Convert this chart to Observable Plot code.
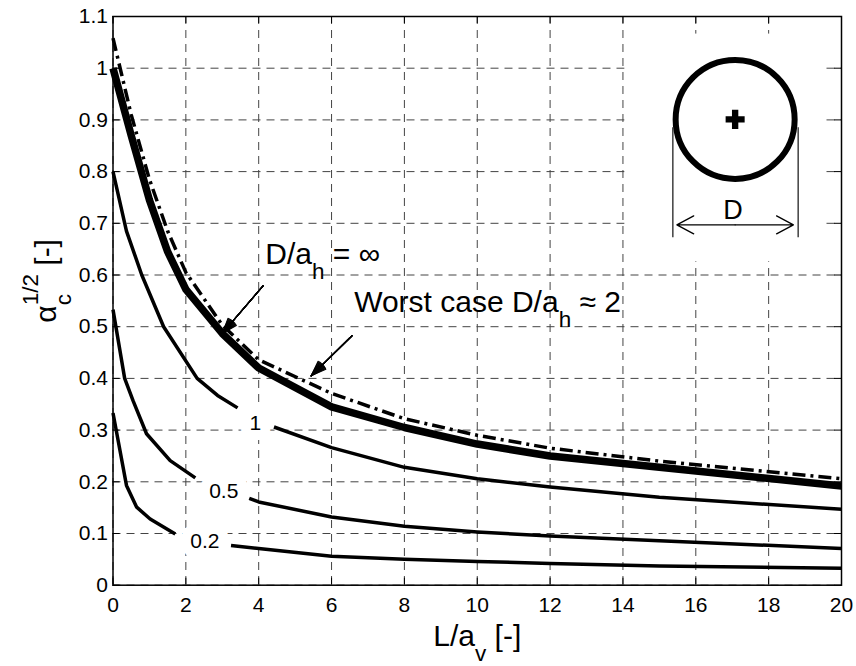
<!DOCTYPE html>
<html>
<head>
<meta charset="utf-8">
<script src="https://cdn.jsdelivr.net/npm/d3@7"></script>
<script src="https://cdn.jsdelivr.net/npm/@observablehq/plot@0.6"></script>
<style>
  html, body { margin: 0; padding: 0; background: #fff; }
  #chart { width: 856px; height: 666px; }
</style>
</head>
<body>
<div id="chart"></div>
<script>
// ---------- data ----------
const xTicks = [0, 2, 4, 6, 8, 10, 12, 14, 16, 18, 20];
const yTicks = [0, 0.1, 0.2, 0.3, 0.4, 0.5, 0.6, 0.7, 0.8, 0.9, 1, 1.1];

// D/a_h = infinity (thick line)
const infX = [0, 0.5, 1, 1.5, 2, 3, 4, 6, 8, 10, 12, 15, 20];
const infY = [1.0, 0.87, 0.745, 0.645, 0.572, 0.487, 0.42, 0.345, 0.305, 0.273, 0.25, 0.228, 0.192];

// Worst case D/a_h ≈ 2 (dash-dot)
const worstX = [0, 0.5, 1, 1.5, 2, 3, 4, 6, 8, 10, 12, 15, 20];
const worstY = [1.058, 0.91, 0.785, 0.685, 0.605, 0.503, 0.436, 0.371, 0.322, 0.29, 0.265, 0.24, 0.206];

// D/a_h = 1 (gap at the label)
const c1X = [0, 0.37, 0.79, 1.39, 2.31, 2.87, 3.42, null, 4.42, 6, 8, 10, 12, 15, 20];
const c1Y = [0.8, 0.685, 0.6, 0.5, 0.4, 0.367, 0.343, null, 0.306, 0.266, 0.228, 0.206, 0.19, 0.17, 0.147];

// D/a_h = 0.5
const c05X = [0, 0.32, 0.55, 0.92, 1.57, 2.26, null, 3.74, 4, 6, 8, 10, 12, 15, 20];
const c05Y = [0.533, 0.40, 0.357, 0.293, 0.241, 0.2075, null, 0.168, 0.161, 0.132, 0.114, 0.103, 0.095, 0.086, 0.071];

// D/a_h = 0.2
const c02X = [0, 0.37, 0.65, 1.02, 1.71, null, 3.24, 4, 6, 8, 10, 12, 15, 20];
const c02Y = [0.333, 0.193, 0.151, 0.128, 0.099, null, 0.077, 0.071, 0.056, 0.05, 0.046, 0.042, 0.037, 0.033];

// curve labels
const curveLabelText = ["1", "0.5", "0.2"];
const curveLabelX = [3.91, 3.04, 2.52];
const curveLabelY = [0.300, 0.169, 0.072];

// annotations
const annotText = ["D/a_{h} = ∞", "Worst case D/a_{h} ≈ 2"];
const annotX = [4.18, 6.62];
const annotY = [0.622, 0.5275];
const annotArrowX1 = [4.12, 6.56];
const annotArrowY1 = [0.579, 0.4825];
const annotArrowX2 = [3.0, 5.44];
const annotArrowY2 = [0.487, 0.405];

// inset (circle of diameter D)
const insetBoxX = [14.06, 19.55];
const insetBoxY = [0.6255, 1.066];
const circleCenter = [17.08, 0.901];
const dimLineX = [15.37, 18.81];
const dimLineY = [0.672, 0.885];
const dimArrowY = 0.697;
const dimArrowEnds = [15.48, 18.68];
const dimLabel = "D";
const dimLabelPos = [17.02, 0.7086];

// axis titles
const xTitle = "L/a_{v} [-]";
const yTitle = "α_{c}^{1/2} [-]";

// ---------- layout ----------
const W = 856, H = 666;
const mL = 112.5, mR = 15, mT = 16, mB = 81.3;
const plotW = W - mL - mR, plotH = H - mT - mB;
const FONT = "'Liberation Sans', Arial, Helvetica, sans-serif";
const TICK_FONT = 21;

const toRows = (X, Y) => X.map((x, i) => ({x, y: Y[i]}));
const infRows = toRows(infX, infY);
const worstRows = toRows(worstX, worstY);
const c1Rows = toRows(c1X, c1Y);
const c05Rows = toRows(c05X, c05Y);
const c02Rows = toRows(c02X, c02Y);
const labelRows = curveLabelText.map((t, i) => ({t, x: curveLabelX[i], y: curveLabelY[i]}));
const annotRows = annotText.map((t, i) => ({t, x: annotX[i], y: annotY[i]}));
const annotArrowRows = annotArrowX1.map((x1, i) => ({x1, y1: annotArrowY1[i], x2: annotArrowX2[i], y2: annotArrowY2[i]}));
const boxRows = [{x1: insetBoxX[0], x2: insetBoxX[1], y1: insetBoxY[0], y2: insetBoxY[1]}];
const circleRows = [{x: circleCenter[0], y: circleCenter[1]}];
const dimRuleRows = dimLineX.map(x => ({x, y1: dimLineY[0], y2: dimLineY[1]}));
const midX = (dimArrowEnds[0] + dimArrowEnds[1]) / 2;
const dimArrowRows = dimArrowEnds.map(x2 => ({x1: midX, x2, y: dimArrowY}));

const headAngles = [0, 5, 10, 15, 20, 25, 30, 35, 40];
const lineStyle = {stroke: "black", strokeLinecap: "butt", strokeLinejoin: "round"};

const plot = Plot.plot({
  width: W,
  height: H,
  marginLeft: mL, marginRight: mR, marginTop: mT, marginBottom: mB,
  style: {fontFamily: FONT, fontSize: TICK_FONT + "px", background: "white", color: "black", overflow: "visible"},
  x: {domain: [0, 20]},
  y: {domain: [0, 1.1]},
  marks: [
    // grid
    Plot.ruleX(xTicks, {stroke: "#444", strokeWidth: 1, strokeDasharray: "8,6"}),
    Plot.ruleY(yTicks, {stroke: "#444", strokeWidth: 1, strokeDasharray: "8,6"}),
    // inset background
    Plot.rect(boxRows, {x1: "x1", x2: "x2", y1: "y1", y2: "y2", fill: "white"}),
    // curve labels with white background
    Plot.text(labelRows, {x: "x", y: "y", text: "t", fontSize: 21, fontFamily: FONT, textAnchor: "middle",
      lineAnchor: "bottom", fill: "black", stroke: "white", strokeWidth: 20, strokeLinejoin: "round", paintOrder: "stroke"}),
    // curves
    Plot.line(c02Rows, {x: "x", y: "y", ...lineStyle, strokeWidth: 3.5}),
    Plot.line(c05Rows, {x: "x", y: "y", ...lineStyle, strokeWidth: 3.5}),
    Plot.line(c1Rows, {x: "x", y: "y", ...lineStyle, strokeWidth: 3.5}),
    Plot.line(infRows, {x: "x", y: "y", ...lineStyle, strokeWidth: 7.5}),
    Plot.line(worstRows, {x: "x", y: "y", ...lineStyle, strokeWidth: 3.5, strokeDasharray: "13,5,3,5"}),
    // annotations
    Plot.text(annotRows, {x: "x", y: "y", text: "t", fontSize: 30, fontFamily: FONT, textAnchor: "start", lineAnchor: "bottom", fill: "black"}),
    ...headAngles.map(a => Plot.arrow(annotArrowRows, {x1: "x1", y1: "y1", x2: "x2", y2: "y2",
      stroke: "black", strokeWidth: 1.1, headLength: 22, headAngle: a})),
    // inset drawing
    Plot.dot(circleRows, {x: "x", y: "y", r: 59.5, stroke: "black", strokeWidth: 6, fill: "none"}),
    Plot.dot(circleRows, {x: "x", y: "y", r: 8, symbol: "cross", fill: "black", stroke: "none"}),
    Plot.ruleX(dimRuleRows, {x: "x", y1: "y1", y2: "y2", stroke: "#222", strokeWidth: 1.3}),
    Plot.arrow(dimArrowRows, {x1: "x1", x2: "x2", y1: "y", y2: "y", stroke: "black", strokeWidth: 1.3, headLength: 22, headAngle: 56}),
    Plot.text([dimLabel], {x: () => dimLabelPos[0], y: () => dimLabelPos[1], text: d => d, fontSize: 27, fontFamily: FONT,
      textAnchor: "middle", lineAnchor: "bottom", fill: "black"}),
    // axes tick labels
    Plot.axisX(xTicks, {tickSize: 0, tickPadding: 12, tickFormat: d => String(d), fontSize: TICK_FONT, fontFamily: FONT, label: null}),
    Plot.axisY(yTicks, {tickSize: 0, tickPadding: 5, tickFormat: d => String(d), fontSize: TICK_FONT, fontFamily: FONT, label: null}),
    // inward ticks on all four sides
    Plot.ruleX(xTicks, {stroke: "black", strokeWidth: 1, insetTop: plotH - 7}),
    Plot.ruleX(xTicks, {stroke: "black", strokeWidth: 1, insetBottom: plotH - 7}),
    Plot.ruleY(yTicks, {stroke: "black", strokeWidth: 1, insetRight: plotW - 7}),
    Plot.ruleY(yTicks, {stroke: "black", strokeWidth: 1, insetLeft: plotW - 7}),
    // frame
    Plot.frame({stroke: "black", strokeWidth: 1.5}),
    // axis titles
    Plot.text([xTitle], {text: d => d, frameAnchor: "bottom", dy: 60.3, fontSize: 30, fontFamily: FONT,
      textAnchor: "middle", lineAnchor: "bottom", fill: "black"}),
    Plot.text([yTitle], {text: d => d, frameAnchor: "left", dx: -57, dy: -20, rotate: -90, fontSize: 30, fontFamily: FONT,
      textAnchor: "middle", lineAnchor: "bottom", fill: "black"})
  ]
});

document.getElementById("chart").append(plot);

// ---------- subscripts / superscripts as tspans ----------
const SUB_SHIFT = 0.5, SUP_SHIFT = 0.6, SCRIPT_SCALE = 0.75;
function richify(svg) {
  const NS = "http://www.w3.org/2000/svg";
  for (const t of svg.querySelectorAll("text")) {
    const src = t.textContent;
    if (!/[_^]\{/.test(src)) continue;
    const parts = src.split(/([_^]\{[^}]*\})/).filter(s => s.length);
    while (t.firstChild) t.removeChild(t.firstChild);
    let shift = 0, prevSub = null;
    for (const p of parts) {
      const ts = document.createElementNS(NS, "tspan");
      let target = 0, scale = 1, txt = p;
      if (p.startsWith("_{")) { target = SUB_SHIFT; scale = SCRIPT_SCALE; txt = p.slice(2, -1); }
      else if (p.startsWith("^{")) { target = -SUP_SHIFT; scale = SCRIPT_SCALE; txt = p.slice(2, -1); }
      ts.textContent = txt;
      if (scale !== 1) ts.setAttribute("font-size", `${scale * 100}%`);
      const delta = target - shift;
      if (delta) ts.setAttribute("dy", `${(delta / scale).toFixed(3)}em`);
      t.appendChild(ts);
      if (target < 0 && prevSub) ts.setAttribute("dx", `${-prevSub.getComputedTextLength()}`);
      shift = target;
      prevSub = target > 0 ? ts : null;
    }
  }
}
richify(plot);
</script>
</body>
</html>
